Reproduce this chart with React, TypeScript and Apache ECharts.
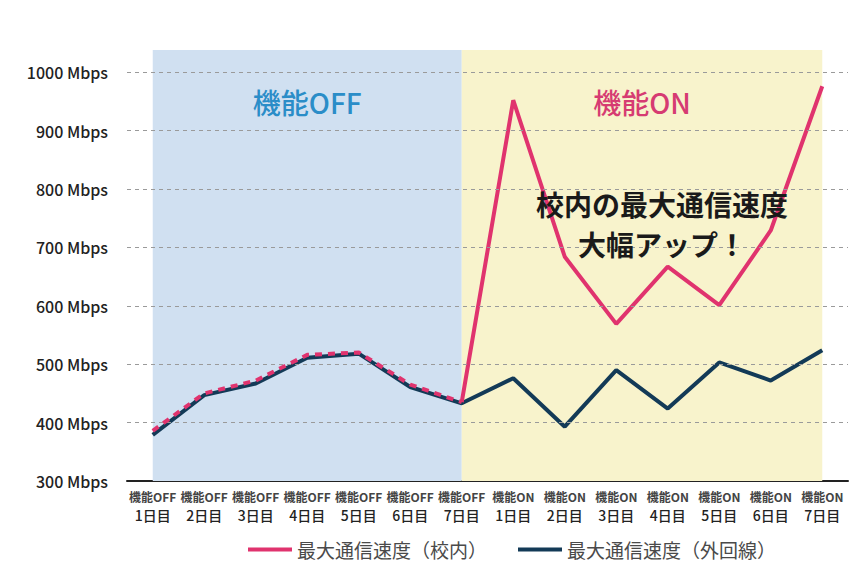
import React, { useEffect, useRef } from "react";
import * as echarts from "echarts";

const phases = ["機能OFF", "機能OFF", "機能OFF", "機能OFF", "機能OFF", "機能OFF", "機能OFF", "機能ON", "機能ON", "機能ON", "機能ON", "機能ON", "機能ON", "機能ON"];
const days = ["1日目", "2日目", "3日目", "4日目", "5日目", "6日目", "7日目", "1日目", "2日目", "3日目", "4日目", "5日目", "6日目", "7日目"];
const campusSpeed = [386, 450, 472, 516, 520, 465, 435, 952, 684, 569, 667, 601, 729, 976];
const externalSpeed = [379, 447, 467, 511, 518, 461, 433, 476, 393, 490, 424, 503, 472, 524];
const yTicks = [400, 500, 600, 700, 800, 900, 1000];
const seriesNames = ["最大通信速度（校内）", "最大通信速度（外回線）"];

const categories = phases.map((p, i) => `${p} ${days[i]}`);
const offEnd = 6;
const FONT = "'Noto Sans CJK JP', 'Noto Sans', sans-serif";
const PINK = "#e0336e";
const NAVY = "#133a57";

export default function App() {
  const ref = useRef<HTMLDivElement>(null);
  useEffect(() => {
    if (!ref.current) return;
    const chart = echarts.init(ref.current, null, { renderer: "svg" });
    const pinkSolid = campusSpeed.map((v, i) => (i >= offEnd ? v : null));
    const pinkDashed = campusSpeed.map((v, i) => (i <= offEnd ? v : null));
    chart.setOption({
      animation: false,
      backgroundColor: "#ffffff",
      textStyle: { fontFamily: FONT },
      grid: { left: 127, right: 13, top: 50, bottom: 84 },
      legend: {
        data: seriesNames,
        left: 243,
        top: 535,
        icon: "rect",
        itemWidth: 44,
        itemHeight: 4,
        itemGap: 31,
        textStyle: { fontSize: 19, color: "#4a4a4a", fontFamily: FONT },
      },
      xAxis: {
        type: "category",
        data: categories,
        boundaryGap: true,
        axisTick: { show: false },
        axisLine: { lineStyle: { color: "#222", width: 2 } },
        axisLabel: {
          margin: 7,
          interval: 0,
          formatter: (v: string) => {
            const [a, b] = v.split(" ");
            return `{a|${a}}\n{b|${b}}`;
          },
          rich: {
            a: { fontSize: 12, fontWeight: "bold", color: "#444", lineHeight: 17, fontFamily: FONT },
            b: { fontSize: 14, fontWeight: 500, color: "#222", lineHeight: 19, fontFamily: FONT },
          },
        },
      },
      yAxis: {
        type: "value",
        min: 300,
        max: 1038,
        interval: 100,
        axisLine: { show: false },
        axisTick: { show: false },
        splitLine: { show: false },
        axisLabel: {
          margin: 19,
          showMaxLabel: false,
          color: "#222",
          fontSize: 16,
          fontWeight: 500,
          fontFamily: FONT,
          formatter: (v: number) => (v % 100 === 0 ? `${v} Mbps` : ""),
        },
      },
      series: [
        {
          name: seriesNames[1],
          type: "line",
          data: externalSpeed,
          symbol: "none",
          color: NAVY,
          lineStyle: { color: NAVY, width: 4 },
          z: 3,
          markArea: {
            silent: true,
            data: [
              [
                {
                  xAxis: categories[0],
                  itemStyle: { color: "#d0e0f1" },
                  label: {
                    show: true,
                    position: "insideTop",
                    distance: 38,
                    formatter: "機能OFF",
                    color: "#2a8dc8",
                    fontSize: 28,
                    fontWeight: 500,
                    fontFamily: FONT,
                  },
                },
                { xAxis: categories[offEnd] },
              ],
              [
                {
                  xAxis: categories[offEnd],
                  itemStyle: { color: "#f8f3cc" },
                  label: {
                    show: true,
                    position: "insideTop",
                    distance: 38,
                    formatter: "機能ON",
                    color: "#d63b72",
                    fontSize: 28,
                    fontWeight: 500,
                    fontFamily: FONT,
                  },
                },
                { xAxis: categories[categories.length - 1] },
              ],
            ],
          },
          markLine: {
            silent: true,
            symbol: "none",
            label: { show: false },
            lineStyle: { color: "#9a9a9a", type: [4, 4], width: 1 },
            data: yTicks.map((y) => ({ yAxis: y })),
          },
        },
        {
          name: seriesNames[0],
          type: "line",
          data: pinkSolid,
          symbol: "none",
          color: PINK,
          lineStyle: { color: PINK, width: 4 },
          z: 4,
        },
        {
          name: seriesNames[0],
          type: "line",
          data: pinkDashed,
          symbol: "none",
          color: PINK,
          lineStyle: { color: PINK, width: 4, type: [7, 6] },
          z: 5,
        },
      ],
      graphic: [
        {
          type: "text",
          x: 662,
          y: 204,
          style: {
            text: "校内の最大通信速度",
            fontSize: 28,
            fontWeight: "bold",
            fill: "#1a1a1a",
            fontFamily: FONT,
            textAlign: "center",
            textVerticalAlign: "middle",
          },
          z: 10,
        },
        {
          type: "text",
          x: 662,
          y: 244,
          style: {
            text: "大幅アップ！",
            fontSize: 28,
            fontWeight: "bold",
            fill: "#1a1a1a",
            fontFamily: FONT,
            textAlign: "center",
            textVerticalAlign: "middle",
          },
          z: 10,
        },
      ],
    });
    return () => chart.dispose();
  }, []);
  return (
    <div
      ref={ref}
      style={{ position: "absolute", left: 0, top: 0, width: 861, height: 565 }}
    />
  );
}
